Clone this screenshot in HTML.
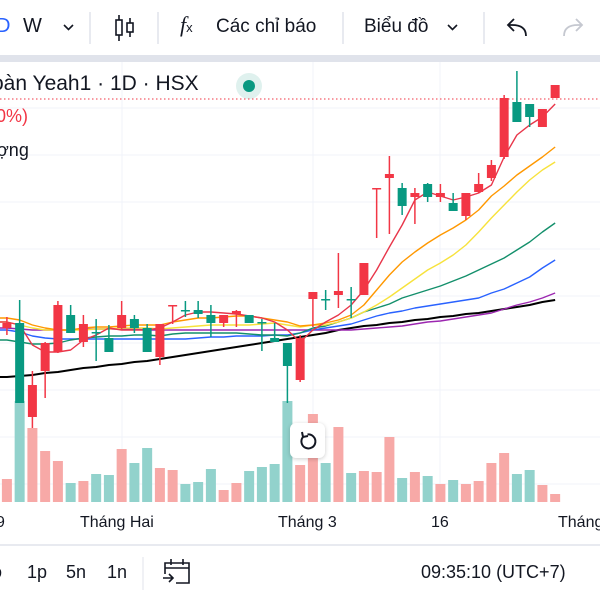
<!DOCTYPE html>
<html><head><meta charset="utf-8">
<style>
html,body{margin:0;padding:0;background:#fff;width:600px;height:600px;overflow:hidden;font-family:"Liberation Sans","Noto Sans CJK SC",sans-serif;color:#131722}
#root{position:relative;width:600px;height:600px}
.t{position:absolute;white-space:nowrap}
</style></head>
<body><div id="root">
<svg id="chart" width="600" height="600" style="position:absolute;left:0;top:0"></svg>

<div class="t" style="left:-4px;top:15px;font-size:20px;color:#2962ff">D</div>
<div class="t" style="left:23px;top:15px;font-size:20px">W</div>
<div class="t" style="left:180px;top:12px;font-size:22px;font-family:'Liberation Serif',serif;font-style:italic">f<span style="font-size:13px;font-style:normal;font-family:'Liberation Sans'">x</span></div>
<div class="t" style="left:216px;top:16px;font-size:19px">Các chỉ báo</div>
<div class="t" style="left:364px;top:16px;font-size:19px">Biểu đồ</div>

<div class="t" style="left:-8px;top:72px;font-size:21px">oàn Yeah1 · 1D · HSX</div>
<div class="t" style="left:-4px;top:106px;font-size:18px;color:#f23645">0%)</div>
<div class="t" style="left:-3px;top:140px;font-size:18px">ợng</div>

<div class="t" style="left:-4px;top:514px;font-size:16px">9</div>
<div class="t" style="left:80px;top:514px;font-size:16px">Tháng Hai</div>
<div class="t" style="left:278px;top:514px;font-size:16px">Tháng 3</div>
<div class="t" style="left:431px;top:514px;font-size:16px">16</div>
<div class="t" style="left:558px;top:514px;font-size:16px">Tháng</div>

<div class="t" style="left:-8px;top:562px;font-size:18px">o</div>
<div class="t" style="left:27px;top:562px;font-size:18px">1p</div>
<div class="t" style="left:66px;top:562px;font-size:18px">5n</div>
<div class="t" style="left:107px;top:562px;font-size:18px">1n</div>
<div class="t" style="left:421px;top:562px;font-size:18px">09:35:10 (UTC+7)</div>

<div style="position:absolute;left:290px;top:423px;width:35px;height:35px;background:#fff;border-radius:6px;box-shadow:0 1px 4px rgba(0,0,0,.2)">
<svg width="35" height="35" style="position:absolute;left:0;top:0"><path d="M13 14 A7 7 0 1 0 17.5 11.5 M12 9 L13 14 L18 13" fill="none" stroke="#131722" stroke-width="2"/></svg></div>
</div>
<script>
const idx=[...Array(44).keys()];
const opens=[37.2,37.7,28.3,32.9,34.8,38.5,35.8,36.8,36.2,37.2,38.1,37.2,34.3,39.4,39.0,39.0,38.5,37.7,38.6,38.5,37.8,36.2,35.7,32.0,40.1,40.1,40.5,40.1,40.5,51.1,52.2,51.2,50.3,51.6,50.3,49.7,48.4,50.8,52.2,54.3,59.8,59.6,57.3,60.2];
const highs=[38.3,40.0,32.9,35.8,39.9,39.5,38.5,38.1,37.5,39.9,38.5,37.6,37.6,39.5,39.9,39.9,39.5,38.5,39.0,38.5,38.1,37.7,35.7,36.5,40.8,41.0,44.7,41.3,43.7,51.2,54.4,51.7,51.2,51.7,51.6,50.7,50.7,52.7,54.0,60.5,62.9,59.6,59.1,61.5];
const lows=[36.5,29.7,27.2,30.2,34.7,36.7,35.3,33.9,34.8,37.0,36.7,34.8,33.5,37.6,38.3,38.2,36.3,37.3,37.3,37.7,34.9,35.8,29.7,31.8,37.3,39.0,39.2,38.2,40.5,46.2,46.6,48.5,47.6,49.8,49.8,48.9,48.0,50.7,51.9,54.1,57.8,57.3,57.3,60.2];
const closes=[37.7,29.7,31.5,35.7,39.5,36.7,37.6,36.7,34.8,38.5,37.2,34.8,37.6,39.5,38.9,38.6,37.7,38.5,38.9,37.7,37.7,35.8,33.4,36.2,40.8,40.0,40.9,40.0,43.7,51.2,52.6,49.4,50.7,50.3,50.7,48.9,50.7,51.6,53.5,60.2,57.8,58.3,59.1,61.5];
const volumes=[2.3,10.1,7.4,5.1,4.1,1.9,2.1,2.8,2.7,5.3,3.9,5.4,3.4,3.2,1.8,2.0,3.3,1.2,1.9,3.1,3.5,3.8,10.1,3.7,8.8,3.9,7.5,2.9,3.1,3.0,6.5,2.4,3.0,2.6,1.8,2.2,1.8,2.1,3.9,4.9,2.8,3.2,1.7,0.8];
const maRed=[37.8,37.5,35.5,34.8,34.8,35.0,36.0,36.5,37.2,37.0,37.0,37.0,37.2,37.8,38.5,38.8,38.8,38.7,38.6,38.4,38.2,37.8,37.0,35.8,37.0,37.8,38.5,39.5,41.0,43.0,45.3,47.5,50.0,50.8,50.4,50.0,50.3,50.7,51.5,54.3,56.5,57.5,58.3,59.6];
const maOrange=[38.2,38.0,37.5,37.2,37.0,37.0,37.2,37.3,37.3,37.4,37.5,37.5,37.5,37.8,38.0,38.2,38.2,38.3,38.4,38.4,38.2,38.0,37.8,37.4,37.5,37.7,38.0,38.5,39.5,41.0,42.5,43.8,44.8,45.7,46.5,47.2,48.0,49.0,50.4,51.4,52.5,53.4,54.3,55.3];
const maYellow=[37.8,37.5,37.2,37.0,37.0,37.0,37.0,37.1,37.1,37.2,37.2,37.2,37.1,37.2,37.3,37.4,37.5,37.5,37.5,37.5,37.6,37.7,37.5,37.3,37.5,37.5,37.8,38.2,38.8,39.5,40.3,41.2,42.1,43.0,43.7,44.5,45.5,46.8,48.2,49.5,50.8,52.0,53.0,53.8];
const maGreen=[36.0,35.8,35.6,35.6,35.7,36.0,36.2,36.3,36.4,36.4,36.5,36.5,36.4,36.6,36.7,36.7,36.7,36.7,36.7,36.6,36.5,36.5,36.4,36.7,37.2,37.4,37.8,38.2,38.8,39.2,39.6,40.2,40.6,41.0,41.4,41.9,42.4,43.0,43.6,44.2,45.0,45.8,46.8,47.7];
const maBlue=[37.0,36.8,36.4,36.2,36.1,36.1,36.1,36.1,36.1,36.1,36.1,36.1,36.1,36.1,36.1,36.2,36.3,36.3,36.4,36.4,36.4,36.5,36.5,36.7,37.0,37.2,37.4,37.6,38.0,38.4,38.7,38.9,39.2,39.4,39.6,39.8,40.0,40.2,40.7,41.1,41.7,42.3,43.2,44.0];
const maPurple=[37.2,37.1,37.0,37.0,37.0,37.0,37.1,37.1,37.1,37.1,37.1,37.0,37.0,37.0,37.0,37.0,37.0,37.0,37.0,37.0,37.0,37.0,37.0,37.0,37.0,37.0,37.0,37.0,37.1,37.2,37.3,37.4,37.6,37.8,37.9,38.1,38.3,38.5,38.7,39.1,39.5,39.8,40.2,40.7];
const maBlack=[32.3,32.4,32.5,32.7,32.8,33.0,33.2,33.3,33.5,33.6,33.8,33.9,34.1,34.3,34.5,34.7,34.9,35.1,35.3,35.5,35.7,35.9,36.1,36.3,36.5,36.7,37.0,37.2,37.4,37.5,37.7,37.8,38.0,38.1,38.3,38.4,38.6,38.7,38.9,39.1,39.3,39.5,39.8,40.0];
const lastPrice=60.1;

const NS='http://www.w3.org/2000/svg';
const svg=document.getElementById('chart');
const xS=i=>6.9+12.75*i;
const yS=p=>700-p*10;
const yV=v=>502-v*10;
function mk(tag,attrs,parent){const e=document.createElementNS(NS,tag);for(const k in attrs)e.setAttribute(k,attrs[k]);(parent||svg).appendChild(e);return e;}

let r=mk('rect',{x:0,y:55,width:600,height:7,fill:'#e0e3eb'});


[90,158,343,484].forEach(x=>{const l=mk('line',{x1:x,x2:x,y1:12,y2:44,stroke:'#e0e3eb','stroke-width':1.5});

});
let bl=mk('line',{x1:0,x2:600,y1:545,y2:545,stroke:'#e0e3eb','stroke-width':1.5});


let bd=mk('line',{x1:143,x2:143,y1:557,y2:590,stroke:'#e0e3eb','stroke-width':1});


[108,155,202,249,296,343,390,437,484].forEach(y=>{const g=mk('line',{x1:0,x2:600,y1:y,y2:y,stroke:'#f0f3fa','stroke-width':1});

});
[122,313,440].forEach(x=>{const g=mk('line',{x1:x,x2:x,y1:62,y2:502,stroke:'#f0f3fa','stroke-width':1});

});

// chevrons
const ch1=mk('path',{d:'M64 25 L68.5 29.5 L73 25',stroke:'#131722','stroke-width':1.6,fill:'none'});


const ch2=mk('path',{d:'M448 25 L452.5 29.5 L457 25',stroke:'#131722','stroke-width':1.6,fill:'none'});



const ic=mk('g',{stroke:'#131722','stroke-width':1.6,fill:'none'});


mk('line',{x1:119,x2:119,y1:15,y2:41},ic);mk('rect',{x:116,y:20,width:6,height:15,fill:'#fff'},ic);
mk('line',{x1:130,x2:130,y1:18,y2:37},ic);mk('rect',{x:127,y:23,width:6,height:9,fill:'#fff'},ic);
const ud=mk('path',{d:'M526 36 Q526 25 512 25 L508 25 M514 19 L508 25 L514 31',stroke:'#131722','stroke-width':1.8,fill:'none'});


const rd=mk('path',{d:'M564 36 Q564 25 578 25 L582 25 M576 19 L582 25 L576 31',stroke:'#c5c8d0','stroke-width':1.8,fill:'none'});


const cal=mk('g',{stroke:'#131722','stroke-width':1.6,fill:'none'});


mk('path',{d:'M165 574 V563 H189 V583 H176 M165 568 H189 M171 559 V565 M183 559 V565 M163 578 H173 M169 574 L173 578 L169 582'},cal);
const dh=mk('circle',{cx:249,cy:86,r:13,fill:'#dff1ee'});


const dd=mk('circle',{cx:249,cy:86,r:6,fill:'#089981'});



idx.forEach(i=>{const up=closes[i]>=opens[i];
const b=mk('rect',{x:xS(i)-5,y:yV(volumes[i]),width:10,height:502-yV(volumes[i]),fill:up?'#f7a9a7':'#92d2cc'});

});

const lp=mk('line',{x1:0,x2:600,y1:yS(lastPrice),y2:yS(lastPrice),stroke:'#f23645','stroke-width':1,'stroke-dasharray':'1.5 2.5'});



const mas=[[maBlack,'#000',2,'ma-black'],[maPurple,'#9c27b0',1.4,'ma-purple'],[maBlue,'#2962ff',1.4,'ma-blue'],[maGreen,'#138f6b',1.4,'ma-green'],[maYellow,'#f7e23c',1.4,'ma-yellow'],[maOrange,'#ff9800',1.4,'ma-orange'],[maRed,'#e8364a',1.4,'ma-red']];
mas.forEach(([arr,c,w,n])=>{const pts='0,'+yS(arr[0])+' '+arr.map((v,i)=>xS(i)+','+yS(v)).join(' ');
const p=mk('polyline',{points:pts,fill:'none',stroke:c,'stroke-width':w,'stroke-linejoin':'round'});

});

idx.forEach(i=>{const up=closes[i]>=opens[i];const c=up?'#f23645':'#089981';
const g=mk('g',{});


mk('line',{x1:xS(i),x2:xS(i),y1:yS(highs[i]),y2:yS(lows[i]),stroke:c,'stroke-width':1.5},g);
const t=yS(Math.max(opens[i],closes[i])),b=yS(Math.min(opens[i],closes[i]));
mk('rect',{x:xS(i)-4.5,y:t,width:9,height:Math.max(1.5,b-t),fill:c},g);});
</script>
</body></html>
